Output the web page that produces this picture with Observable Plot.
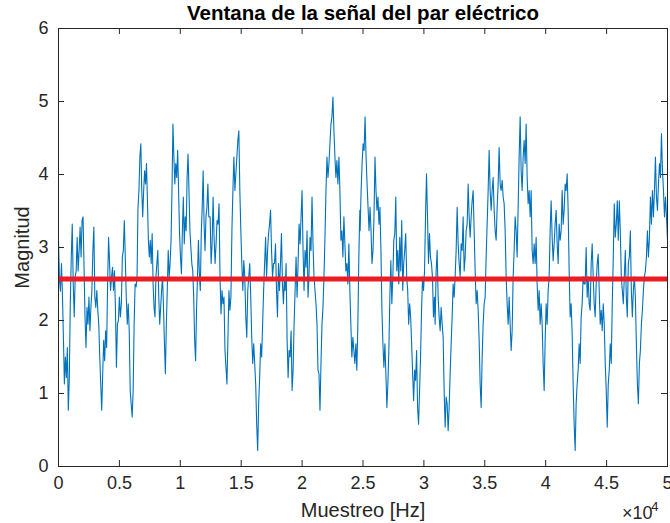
<!DOCTYPE html>
<html><head><meta charset="utf-8">
<script src="https://cdn.jsdelivr.net/npm/d3@7"></script>
<script src="https://cdn.jsdelivr.net/npm/@observablehq/plot@0.6"></script>
<style>html,body{margin:0;padding:0;background:#fff;}</style>
</head><body><div id="chart"></div>
<script>
const titulo = "Ventana de la señal del par eléctrico";
const etiquetaX = "Muestreo [Hz]";
const etiquetaY = "Magnitud";
const exponenteBase = "×10";
const exponente = "4";
const ticksX = [0, 5000, 10000, 15000, 20000, 25000, 30000, 35000, 40000, 45000, 50000];
const etiquetasX = ["0", "0.5", "1", "1.5", "2", "2.5", "3", "3.5", "4", "4.5", "5"];
const ticksY = [0, 1, 2, 3, 4, 5, 6];
const etiquetasY = ["0", "1", "2", "3", "4", "5", "6"];
const media = 2.57;

// señal leída por tramos (valores de magnitud)
const tramo1 = [3.1,2.55,2.4,2.78,2.37,1.77,1.13,1.5,1.22,1.63,0.77,1.22,2.23,2.87,3.32,2.5,2.05,2.6,2.68,3.14,2.68,2.96,3.28,2.87,3.37,3.42,2.73,2.05,1.63,2.18,1.95,2.32,1.86,2.18,2.41,2.96,3.28,2.32,2.18,2.41,2.14,1.95,1.5,1.13,0.77,1.27,1.73,1.45,1.86,1.63,2.5,3.14,2.78,2.41,2.6,2.73,2.41,2.68,2.14,1.36,1.95,2.0,2.32,2.05,2.23,2.87,2.96,3.37,2.87,2.32,1.95,2.23,1.86,1.04,0.86,0.68,1.04,1.95,2.5];
const tramo2 = [2.46,2.6,3.55,3.78,4.24,4.42,3.78,3.42,3.78,4.05,3.87,4.15,3.64,3.1,2.87,3.1,2.78,3.19,2.5,2.18,2.05,2.6,2.78,2.96,2.32,1.95,2.18,2.41,2.6,2.18,1.68,1.27,1.95,2.41,2.96,2.6,2.78,3.1,3.78,4.69,4.24,3.87,4.15,3.96,4.33,3.78,3.19,2.87,2.64,3.23,3.69,3.05,3.42,3.23,3.96,4.28,3.78,3.23,3.0,2.78,2.68,2.32,1.73,1.45,2.14,2.6,3.1,2.64,2.41,3.19,3.55,4.05,3.32,2.96,3.42,3.55,3.87,3.42];
const tramo3 = [3.42,2.78,3.05,3.69,3.14,2.78,3.05,3.37,3.32,3.6,2.6,2.09,2.41,2.23,2.32,1.59,1.36,1.13,1.77,2.41,2.14,2.32,3.23,3.78,4.24,3.78,4.01,4.24,4.47,4.6,3.78,3.23,2.78,2.41,2.82,2.6,2.05,1.77,2.41,2.6,2.78,2.32,1.77,1.41,1.68,1.41,1.13,0.58,0.22,0.86,1.22,1.68,1.5,1.95,2.41,2.78,3.14,2.6,2.96,3.19,3.32,3.51,2.96,2.6,2.78,2.78,3.05,2.41,2.05,2.78,2.41,2.78,3.19,2.5,2.23,2.6];
const tramo4 = [2.41,2.78,1.73,1.22,1.59,1.5,1.86,1.04,1.32,1.95,2.41,2.87,2.32,2.78,3.32,3.05,3.42,3.78,2.96,2.41,2.96,2.73,3.23,2.32,2.64,3.14,2.96,3.69,3.05,2.6,2.41,2.23,1.95,1.32,1.27,0.77,1.41,1.95,2.18,2.6,3.14,3.78,4.24,3.96,4.15,4.42,4.69,4.79,5.06,4.6,4.24,3.96,4.19,3.87,4.24,3.78,3.1,3.23,2.87,3.42,3.05,2.68,2.78,2.5,3.05,2.41,1.95,1.5,1.77,1.59,1.41,1.68,1.32,1.95,2.87,3.51];
const tramo5 = [3.23,3.78,4.15,4.42,4.33,4.79,4.24,3.87,3.55,3.23,3.55,3.23,2.78,2.96,3.42,4.24,3.78,3.51,3.69,3.32,3.55,2.96,2.14,1.68,1.36,1.68,1.27,0.81,1.13,1.59,2.32,2.82,2.23,2.6,3.1,3.19,3.69,2.68,2.96,2.5,3.14,2.68,3.37,2.41,2.78,2.96,3.19,2.6,2.41,1.95,2.23,2.05,1.68,1.27,0.9,1.32,1.18,1.59,0.81,0.58,1.04,1.5,2.14,2.6,2.41,2.68,3.42,4.01,3.42,2.78,3.19,2.87,2.78,2.6,2.05,2.32];
const tramo6 = [1.95,2.68,2.96,2.32,2.05,1.86,2.18,1.95,1.77,1.04,0.54,0.95,0.86,0.49,0.81,1.27,1.68,2.05,2.5,2.32,2.6,2.96,3.55,3.05,2.78,2.6,3.05,2.96,3.42,2.68,2.87,3.23,3.32,3.87,3.42,3.14,3.42,3.64,3.78,3.23,2.68,2.23,2.41,2.14,1.73,1.13,0.81,1.5,1.95,2.23,2.32,2.87,3.32,3.78,4.33,3.78,3.51,3.78,3.96,3.51,3.23,3.1,3.55,3.87,4.37,3.87,3.78,3.92,3.69,3.6,3.23,2.6,2.23,1.95,2.32];
const tramo7 = [1.95,1.59,1.86,2.6,2.96,3.42,3.23,2.87,3.55,4.24,4.79,4.05,3.78,4.24,4.47,4.15,4.69,3.96,3.6,3.78,3.42,3.78,2.96,2.78,3.05,2.78,3.14,2.5,2.14,2.41,1.95,2.23,1.95,1.41,1.04,1.73,2.23,1.95,2.41,2.6,3.23,3.64,3.14,2.82,3.05,3.32,3.51,3.05,2.78,3.32,3.1,3.23,3.78,3.32,3.51,3.87,3.78,4.01,3.51,2.68,2.05,2.23,1.82,1.13,0.58,0.22,0.86,1.13,1.32,1.68,1.41,2.05,2.23,2.6,2.5];
const tramo8 = [2.5,3.0,2.32,2.6,2.23,2.14,2.78,3.05,2.6,2.23,2.05,2.5,2.78,2.91,2.41,1.95,2.14,1.86,2.23,1.95,1.41,1.04,0.54,1.13,1.32,1.68,1.41,2.23,2.87,3.6,3.14,3.32,3.64,3.1,3.64,3.23,2.6,2.41,2.23,2.6,2.96,2.32,2.05,2.78,2.87,3.23,2.41,2.05,2.41,2.6,2.32,1.68,1.13,0.86,1.41,1.59,1.95,2.14,2.41,2.6,2.68,2.87,3.23,2.87,3.14,3.69,3.32,3.78,3.42,3.78,4.24,3.69,3.51,3.87,4.15,3.96,4.56,4.05,3.78,3.42,3.69,3.42,3.1];
// muestra inicial y final de cada tramo
const inicioTramo = [0, 6372, 12448, 18606, 24764, 30923, 37081, 43239];
const finTramo = [6290, 12341, 18549, 24740, 30865, 36999, 43157, 50000];

const tramos = [tramo1, tramo2, tramo3, tramo4, tramo5, tramo6, tramo7, tramo8];
const datos = tramos.flatMap((t, k) => t.map((v, i) => ({
  muestra: inicioTramo[k] + i * (finTramo[k] - inicioTramo[k]) / (t.length - 1),
  magnitud: v
})));

const W = 670, H = 523;
const mL = 58, mR = 3, mT = 28, mB = 57;
const innerH = H - mT - mB;
const innerW = W - mL - mR;
const tick = 6;
const ink = "#262626";

const chart = Plot.plot({
  width: W, height: H,
  marginLeft: mL, marginRight: mR, marginTop: mT, marginBottom: mB,
  style: {fontFamily: "'Liberation Sans', Arial, sans-serif", fontSize: "18px", color: ink, background: "#fff"},
  x: {domain: [0, 50000]},
  y: {domain: [0, 6]},
  marks: [
    Plot.line(datos, {x: "muestra", y: "magnitud", stroke: "#0072BD", strokeWidth: 1.1}),
    Plot.ruleY([media], {stroke: "#ED1C24", strokeWidth: 5}),
    Plot.frame({stroke: ink}),
    Plot.tickX(ticksX, {x: d => d, stroke: ink, insetTop: innerH - tick}),
    Plot.tickX(ticksX, {x: d => d, stroke: ink, insetBottom: innerH - tick}),
    Plot.tickY(ticksY, {y: d => d, stroke: ink, insetRight: innerW - tick}),
    Plot.tickY(ticksY, {y: d => d, stroke: ink, insetLeft: innerW - tick}),
    Plot.axisX({ticks: ticksX, tickFormat: d => etiquetasX[ticksX.indexOf(d)], tickSize: 0, tickPadding: 10, label: null}),
    Plot.axisY({ticks: ticksY, tickFormat: d => etiquetasY[ticksY.indexOf(d)], tickSize: 0, tickPadding: 10, label: null}),
    Plot.text([titulo], {frameAnchor: "top", dy: -15, lineAnchor: "middle", textAnchor: "middle", fontWeight: "bold", fontSize: 20.5, fill: "#000"}),
    Plot.text([etiquetaX], {frameAnchor: "bottom", dy: 44, lineAnchor: "middle", textAnchor: "middle", fontSize: 20}),
    Plot.text([etiquetaY], {frameAnchor: "left", dx: -36, rotate: -90, lineAnchor: "middle", textAnchor: "middle", fontSize: 20}),
    Plot.text([exponenteBase], {frameAnchor: "bottom-right", dx: -15, dy: 52, textAnchor: "end", lineAnchor: "bottom", fontSize: 18}),
    Plot.text([exponente], {frameAnchor: "bottom-right", dx: -9, dy: 44, textAnchor: "end", lineAnchor: "bottom", fontSize: 13})
  ]
});
document.getElementById("chart").appendChild(chart);
</script>
</body></html>
